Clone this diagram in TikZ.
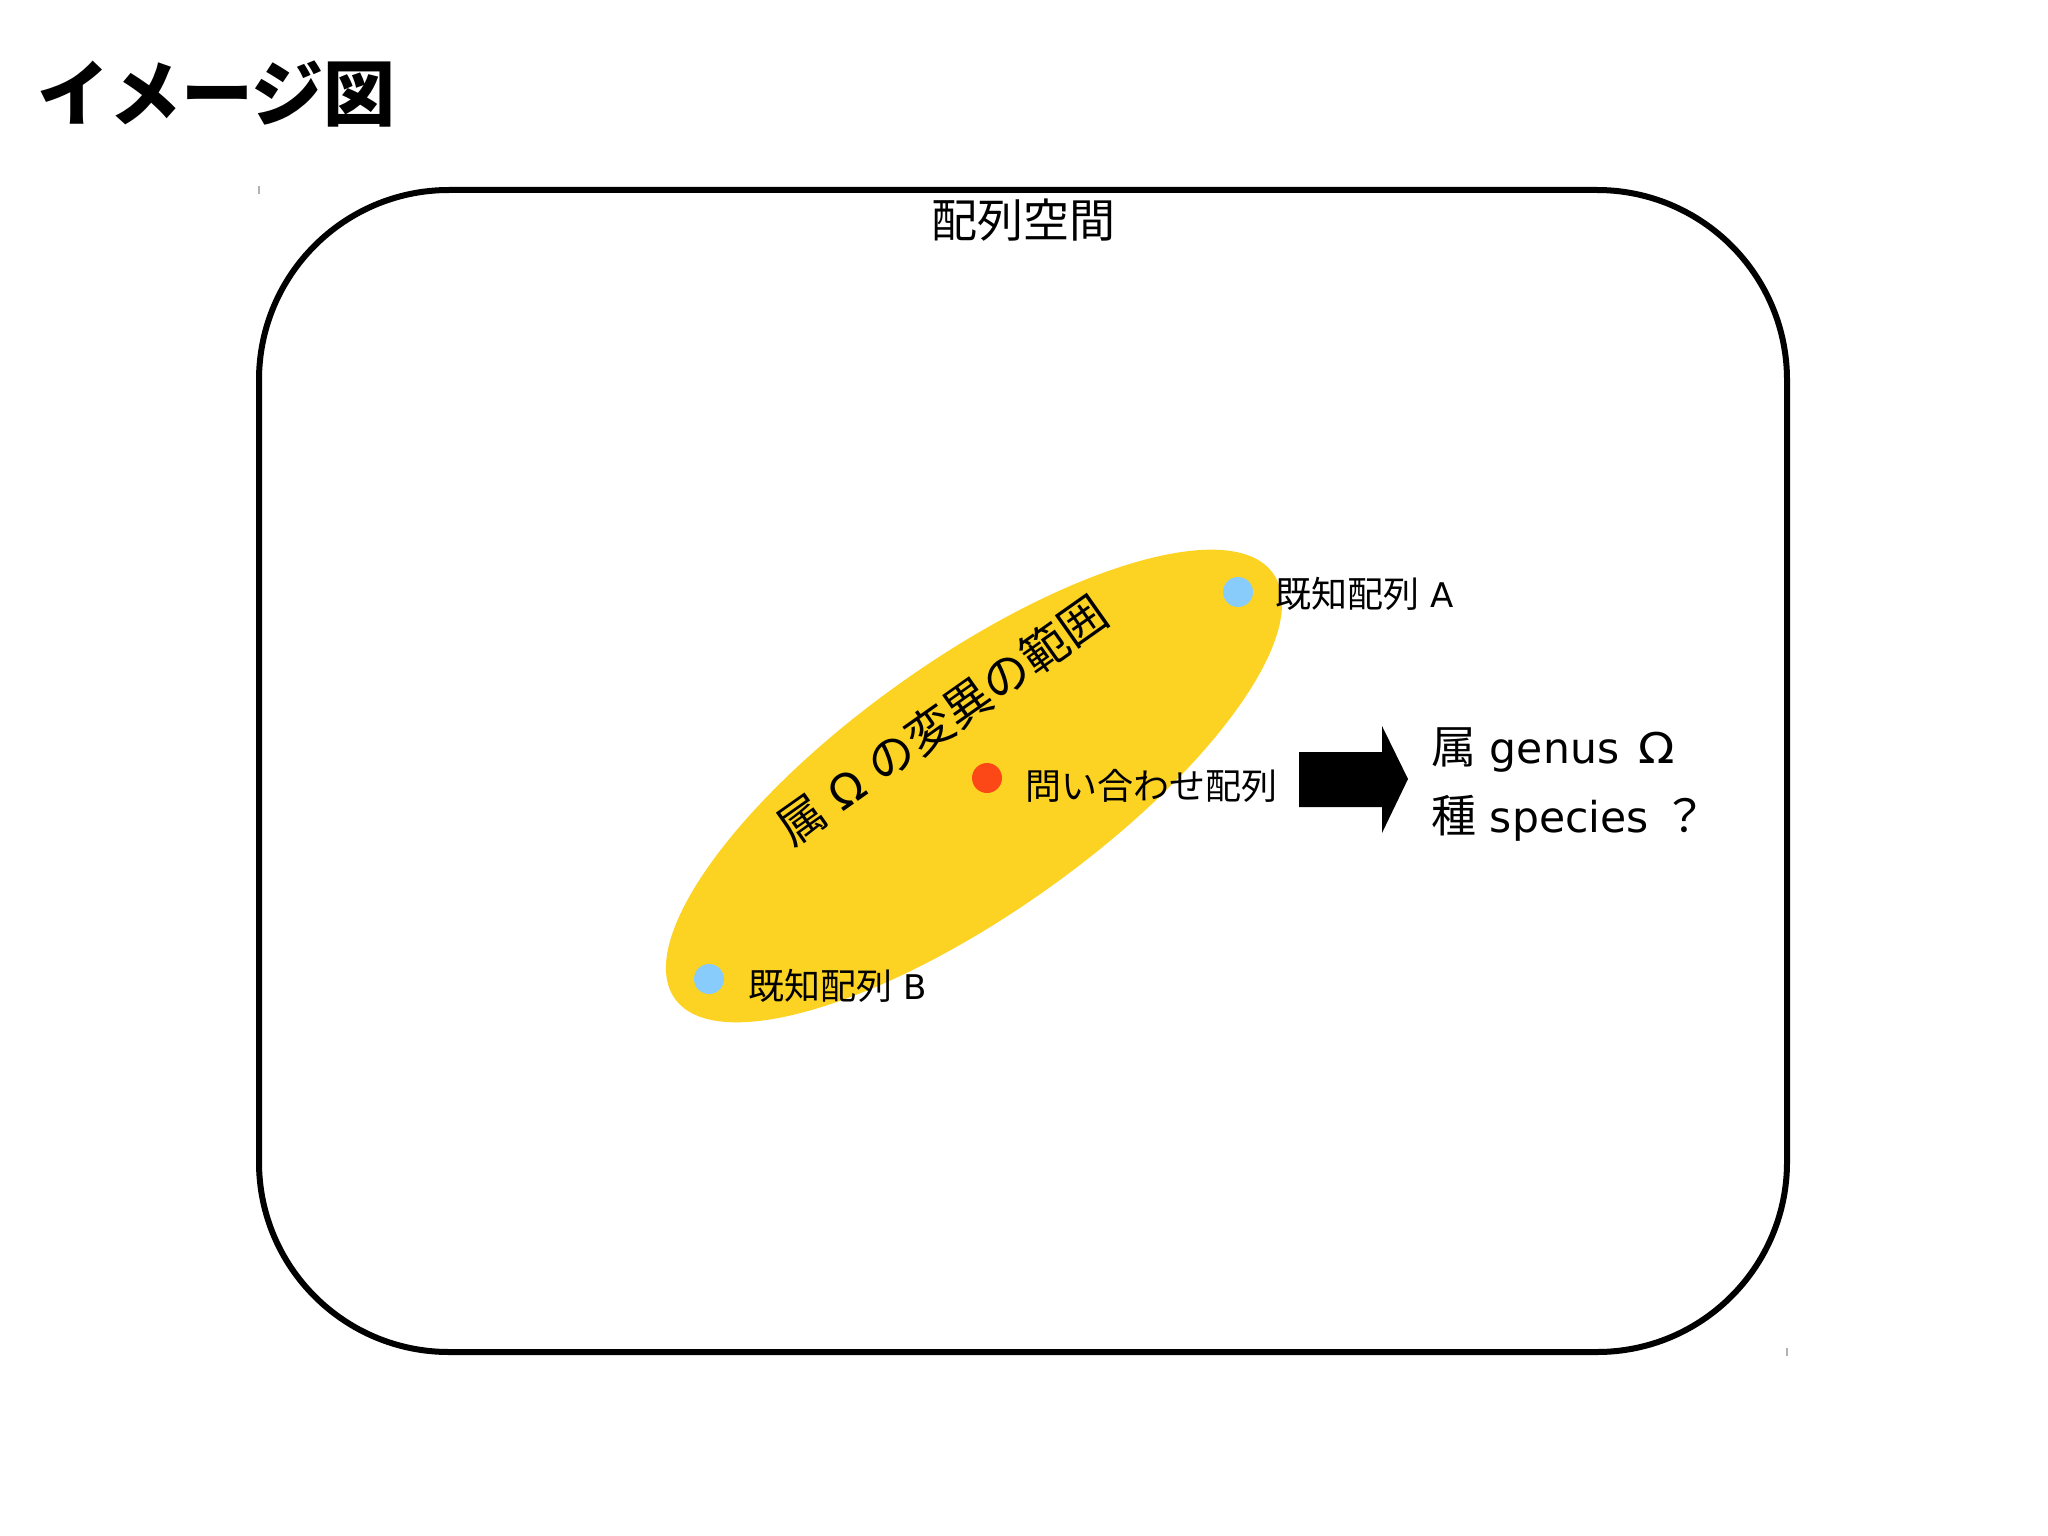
\documentclass[tikz,border=0pt]{standalone}
\usepackage{fontspec}
\setmainfont{Noto Sans CJK JP}
\newfontfamily\lat{DejaVu Sans}[Scale=0.945]
\definecolor{ellcol}{RGB}{252,211,35}
\definecolor{dotblue}{RGB}{135,204,250}
\definecolor{dotred}{RGB}{252,72,22}
\tikzset{
  dot/.style={circle, inner sep=0pt, minimum size=15pt, draw=none},
  lbl/.style={inner sep=0pt, font=\fontsize{18pt}{18pt}\selectfont, anchor=base west},
  reslbl/.style={inner sep=0pt, font=\fontsize{22.5pt}{22.5pt}\selectfont, anchor=base west},
  spacebox/.style={line width=3pt, rounded corners=95pt},
  handle/.style={draw=gray!60, line width=0.6pt}
}
\begin{document}
\begin{tikzpicture}[x=0.5pt,y=-0.5pt]
\useasboundingbox (0,0) rectangle (2048,1535);
% title
\node[inner sep=0pt, anchor=base west, font=\fontsize{36pt}{36pt}\selectfont\bfseries] (title) at (37,121) {イメージ図};
% sequence space box
\draw[spacebox] (259,190) rectangle (1787,1352);
\draw[handle] (259,186) -- (259,194);
\draw[handle] (1787,1348) -- (1787,1356);
\node[inner sep=0pt, font=\fontsize{23pt}{23pt}\selectfont] (space) at (1023,220) {配列空間};
% genus range ellipse
\coordinate (ec) at (974,786);
\fill[ellcol, rotate around={35.4:(ec)}] (ec) ellipse [x radius=183.5pt, y radius=63.25pt];
\node[inner sep=0pt, rotate=35.2, font=\fontsize{23.5pt}{23.5pt}\selectfont] (range) at (942,720) {属{\lat{} Ω }の変異の範囲};
% points
\node[dot, fill=dotblue] (dA) at (1238,592) {};
\node[lbl] (lA) at (1275,607) {既知配列{\lat{} A}};
\node[dot, fill=dotblue] (dB) at (709,979) {};
\node[lbl] (lB) at (748,999) {既知配列{\lat{} B}};
\node[dot, fill=dotred] (dQ) at (987,778) {};
\node[lbl] (lQ) at (1025,799) {問い合わせ配列};
% block arrow
\coordinate (a1) at (1299,752);
\coordinate (a2) at (1382,752);
\coordinate (a3) at (1382,726);
\coordinate (a4) at (1408,779);
\coordinate (a5) at (1382,833);
\coordinate (a6) at (1382,807);
\coordinate (a7) at (1299,807);
\fill[black] (a1) -- (a2) -- (a3) -- (a4) -- (a5) -- (a6) -- (a7) -- cycle;
% result
\node[reslbl] (genus) at (1431,763) {属{\lat{} genus\kern3pt{} \scalebox{1.12}[1]{Ω}}};
\node[reslbl] (species) at (1431,832) {種{\lat{} species }？};
\end{tikzpicture}
\end{document}
